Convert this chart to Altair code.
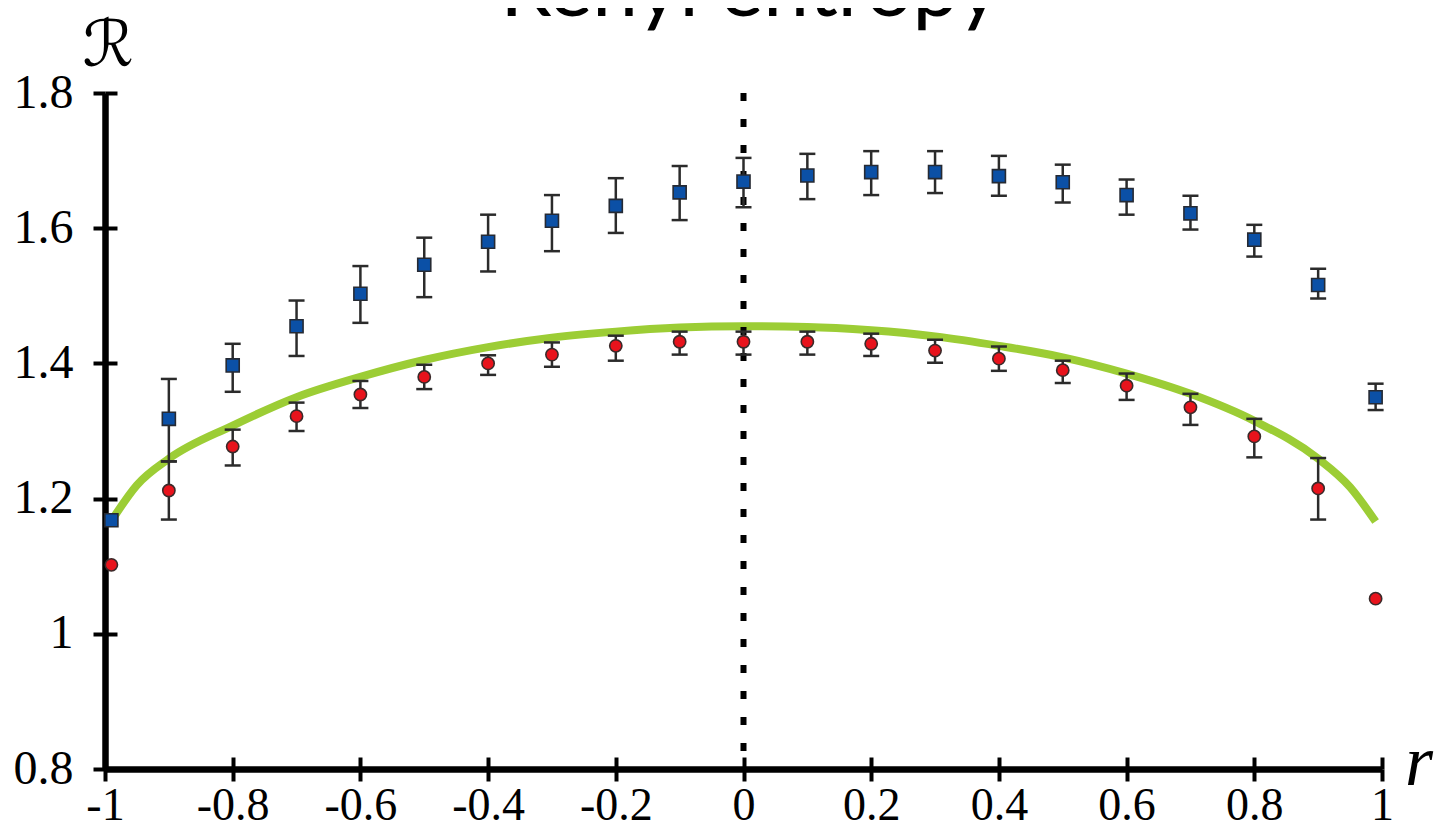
import altair as alt
import pandas as pd

# ---------------- data ----------------
r_vals = [-0.99, -0.9, -0.8, -0.7, -0.6, -0.5, -0.4, -0.3, -0.2, -0.1, 0.0,
          0.1, 0.2, 0.3, 0.4, 0.5, 0.6, 0.7, 0.8, 0.9, 0.99]

blue_val = [1.168, 1.318, 1.397, 1.455, 1.503, 1.546, 1.580, 1.611, 1.633, 1.653, 1.669,
            1.678, 1.683, 1.683, 1.677, 1.668, 1.649, 1.622, 1.583, 1.516, 1.350]
blue_lo = [None, 1.255, 1.358, 1.411, 1.460, 1.498, 1.536, 1.566, 1.593, 1.612, 1.631,
           1.643, 1.649, 1.652, 1.648, 1.638, 1.620, 1.598, 1.558, 1.496, 1.331]
blue_hi = [None, 1.377, 1.429, 1.493, 1.544, 1.586, 1.620, 1.649, 1.674, 1.692, 1.704,
           1.710, 1.714, 1.714, 1.707, 1.694, 1.672, 1.648, 1.605, 1.540, 1.370]

red_val = [1.102, 1.212, 1.277, 1.322, 1.354, 1.380, 1.400, 1.413, 1.426, 1.432, 1.432,
           1.432, 1.429, 1.419, 1.407, 1.390, 1.367, 1.335, 1.292, 1.215, 1.052]
red_lo = [None, 1.169, 1.249, 1.300, 1.334, 1.362, 1.383, 1.395, 1.404, 1.413, 1.413,
          1.413, 1.411, 1.401, 1.389, 1.371, 1.346, 1.309, 1.261, 1.169, None]
red_hi = [None, 1.255, 1.302, 1.342, 1.374, 1.398, 1.412, 1.431, 1.441, 1.447, 1.447,
          1.447, 1.444, 1.435, 1.425, 1.404, 1.385, 1.355, 1.318, 1.260, None]

curve_r = [-0.99, -0.95, -0.9, -0.8, -0.7, -0.6, -0.5, -0.4, -0.3, -0.2, -0.1, 0.0,
           0.1, 0.2, 0.3, 0.4, 0.5, 0.6, 0.7, 0.8, 0.9, 0.95, 0.99]
curve_v = [1.167, 1.220, 1.259, 1.308, 1.350, 1.380, 1.405, 1.424, 1.438, 1.447, 1.453, 1.455,
           1.454, 1.449, 1.440, 1.426, 1.409, 1.385, 1.355, 1.315, 1.259, 1.217, 1.166]

x_ticks = [-1, -0.8, -0.6, -0.4, -0.2, 0, 0.2, 0.4, 0.6, 0.8, 1]
y_ticks = [0.8, 1.0, 1.2, 1.4, 1.6, 1.8]
y_range = [0.8, 1.8]
divider_r = [0.0]

title_text = "Renyi entropy"
y_label = "ℛ"
x_label = "r"

# ---------------- tables ----------------
pts = pd.DataFrame({"r": r_vals, "blue": blue_val, "blo": blue_lo, "bhi": blue_hi,
                    "red": red_val, "rlo": red_lo, "rhi": red_hi})
blue_err = pts.dropna(subset=["blo", "bhi"])[["r", "blo", "bhi"]]
red_err = pts.dropna(subset=["rlo", "rhi"])[["r", "rlo", "rhi"]]
curve = pd.DataFrame({"r": curve_r, "v": curve_v})
divider = pd.DataFrame({"r": divider_r, "top": [y_range[1]], "bot": [y_range[0]]})

W, H = 1277, 676
xs = alt.Scale(domain=[-1, 1], nice=False, zero=False)
ys = alt.Scale(domain=y_range, nice=False, zero=False)

lab = "replace(format(datum.value, '~g'), '\u2212', '-')"
SERIF = "Liberation Serif"

main_x = alt.Axis(values=x_ticks, orient="bottom", title=None, grid=False,
                  domain=True, domainColor="black", domainWidth=6.5,
                  ticks=True, tickColor="black", tickWidth=4, tickSize=12,
                  labelFont=SERIF, labelFontSize=46, labelColor="black",
                  labelPadding=2, labelFlush=False, labelOverlap=False, labelExpr=lab)
inner_x = alt.Axis(values=x_ticks, orient="bottom", title=None, grid=False,
                   domain=False, labels=False, ticks=True, tickColor="black",
                   tickWidth=4, tickSize=12, offset=-12)
main_y = alt.Axis(values=y_ticks, orient="left", title=None, grid=False,
                  domain=True, domainColor="black", domainWidth=6.5,
                  ticks=True, tickColor="black", tickWidth=4, tickSize=12,
                  labelFont=SERIF, labelFontSize=48, labelColor="black",
                  labelPadding=20, labelFlush=False, labelOverlap=False,
                  labelBaseline="middle", labelExpr=lab)
inner_y = alt.Axis(values=y_ticks, orient="left", title=None, grid=False,
                   domain=False, labels=False, ticks=True, tickColor="black",
                   tickWidth=4, tickSize=12, offset=-12)

# dotted vertical divider (carries the main axes)
div_layer = alt.Chart(divider).mark_rule(
    color="black", strokeWidth=6, strokeDash=[8, 18]
).encode(
    x=alt.X("r:Q", scale=xs, axis=main_x),
    y=alt.Y("top:Q", scale=ys, axis=main_y),
    y2="bot:Q",
)

# green theory curve (carries the inner tick halves)
curve_layer = alt.Chart(curve).mark_line(
    color="#9ccd35", strokeWidth=8, strokeCap="butt", interpolate="monotone"
).encode(
    x=alt.X("r:Q", scale=xs, axis=inner_x),
    y=alt.Y("v:Q", scale=ys, axis=inner_y),
)

ERR = "#2b2b2b"


def errbars(df, lo, hi):
    rule = alt.Chart(df).mark_rule(color=ERR, strokeWidth=2.5).encode(
        x=alt.X("r:Q", scale=xs, axis=None),
        y=alt.Y(f"{lo}:Q", scale=ys, axis=None),
        y2=f"{hi}:Q",
    )
    cap_lo = alt.Chart(df).mark_tick(color=ERR, orient="horizontal", size=16,
                                     thickness=2.5, opacity=1).encode(
        x=alt.X("r:Q", scale=xs, axis=None),
        y=alt.Y(f"{lo}:Q", scale=ys, axis=None),
    )
    cap_hi = alt.Chart(df).mark_tick(color=ERR, orient="horizontal", size=16,
                                     thickness=2.5, opacity=1).encode(
        x=alt.X("r:Q", scale=xs, axis=None),
        y=alt.Y(f"{hi}:Q", scale=ys, axis=None),
    )
    return [rule, cap_lo, cap_hi]


blue_pts = alt.Chart(pts).mark_square(
    size=170, fill="#0b50a6", stroke="#262a33", strokeWidth=1.6, opacity=1
).encode(
    x=alt.X("r:Q", scale=xs, axis=None),
    y=alt.Y("blue:Q", scale=ys, axis=None),
)

red_pts = alt.Chart(pts).mark_circle(
    size=150, fill="#e8131c", stroke="#3a2a2a", strokeWidth=1.6, opacity=1
).encode(
    x=alt.X("r:Q", scale=xs, axis=None),
    y=alt.Y("red:Q", scale=ys, axis=None),
)

one = pd.DataFrame({"t": [title_text], "yl": [y_label], "xl": [x_label]})

title_layer = alt.Chart(one).mark_text(
    font="Lato", fontSize=82, color="black", align="center", baseline="alphabetic"
).encode(text="t:N", x=alt.value(645), y=alt.value(-77))

ylab_layer = alt.Chart(one).mark_text(
    font="DejaVu Sans", fontSize=64, color="black", align="center", baseline="alphabetic"
).encode(text="yl:N", x=alt.value(3), y=alt.value(-27))

xlab_layer = alt.Chart(one).mark_text(
    font=SERIF, fontSize=72, fontStyle="italic", color="black", align="center",
    baseline="alphabetic"
).encode(text="xl:N", x=alt.value(1314), y=alt.value(692))

layers = [curve_layer, div_layer] + errbars(blue_err, "blo", "bhi") + \
    errbars(red_err, "rlo", "rhi") + [blue_pts, red_pts, title_layer, ylab_layer, xlab_layer]

chart = alt.layer(*layers).resolve_axis(
    x="independent", y="independent"
).properties(
    width=W, height=H,
    padding={"left": 97, "top": 85, "right": 57, "bottom": 64},
    autosize=alt.AutoSizeParams(type="none"),
    background="white",
).configure_view(stroke=None)

chart.save("out.html", embed_options={"renderer": "svg", "actions": False})
